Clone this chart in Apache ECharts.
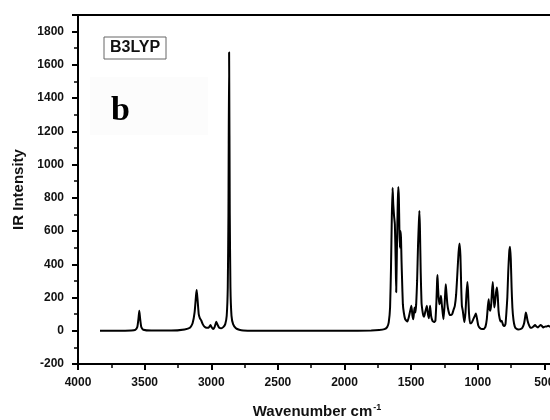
<!DOCTYPE html>
<html>
<head>
<meta charset="utf-8">
<script src="https://cdn.jsdelivr.net/npm/echarts@6/dist/echarts.min.js"></script>
<style>
  html, body { margin: 0; padding: 0; background: #fff; }
  #main { width: 550px; height: 420px; }
</style>
</head>
<body>
<div id="main"></div>
<script>
// spectrum: wavenumber (cm-1) and IR intensity
var wavenumber = [
  3835, 3700, 3600, 3570, 3555, 3546, 3540, 3534, 3525, 3510, 3450, 3300,
  3200, 3160, 3140, 3125, 3114, 3109, 3102, 3094, 3085, 3075, 3064, 3050,
  3035, 3020, 3006, 2996, 2986, 2975, 2962, 2952, 2940, 2925, 2910, 2895,
  2884, 2876, 2871, 2866, 2861, 2856, 2848, 2836, 2815, 2790, 2760, 2600,
  2300, 2000, 1800, 1740, 1700, 1680, 1668, 1658, 1651, 1645, 1639, 1634,
  1628, 1622, 1616, 1612, 1606, 1600, 1596, 1592, 1588, 1584, 1580, 1576,
  1572, 1568, 1562, 1555, 1545, 1535, 1528, 1518, 1507, 1498, 1490, 1483,
  1475, 1468, 1462, 1455, 1448, 1442, 1438, 1434, 1428, 1422, 1415, 1408,
  1402, 1395, 1382, 1374, 1366, 1358, 1350, 1340, 1328, 1318, 1310, 1305,
  1302, 1298, 1290, 1283, 1276, 1270, 1262, 1257, 1250, 1244, 1240, 1236,
  1228, 1220, 1210, 1200, 1192, 1182, 1172, 1162, 1152, 1144, 1137, 1130,
  1124, 1119, 1112, 1106, 1100, 1092, 1085, 1078, 1073, 1066, 1058, 1048,
  1036, 1022, 1014, 1006, 996, 982, 968, 955, 942, 932, 924, 918,
  912, 906, 899, 893, 887, 882, 876, 870, 863, 856, 850, 844,
  836, 828, 820, 810, 800, 792, 785, 778, 771, 764, 758, 752,
  746, 740, 732, 722, 710, 695, 680, 665, 652, 644, 639, 634,
  626, 616, 606, 595, 582, 570, 560, 548, 538, 528, 520, 508,
  496, 482, 470, 458, 440, 420, 400
];
var intensity = [
  0, 0, 2, 6, 22, 75, 120, 75, 22, 6, 1, 1,
  8, 18, 45, 110, 215, 245, 180, 100, 75, 62, 40, 24,
  18, 18, 34, 20, 10, 22, 54, 35, 18, 15, 22, 40,
  90, 260, 700, 1676, 700, 260, 90, 40, 15, 6, 2, 0,
  0, 0, 1, 4, 10, 22, 50, 140, 380, 680, 860, 760,
  690, 640, 420, 232, 520, 780, 865, 800, 610, 500, 600, 560,
  420, 310, 160, 110, 70, 60, 55, 80, 120, 150, 90, 70,
  140, 110, 160, 300, 520, 650, 721, 620, 350, 170, 120, 90,
  85, 110, 150, 100, 75, 150, 90, 60, 52, 60, 180, 300,
  335, 260, 160, 170, 210, 160, 100, 70, 140, 230, 280, 240,
  160, 120, 95, 95, 100, 125, 150, 220, 360, 470, 525, 450,
  260, 150, 120, 80, 52, 110, 220, 294, 240, 110, 45, 45,
  65, 90, 104, 75, 32, 15, 10, 10, 25, 70, 150, 190,
  130, 120, 160, 240, 294, 220, 140, 170, 230, 260, 210, 120,
  75, 55, 60, 35, 28, 40, 110, 200, 360, 470, 505, 430,
  260, 140, 65, 25, 12, 8, 10, 18, 45, 85, 110, 95,
  60, 35, 20, 18, 25, 35, 25, 20, 28, 35, 30, 20,
  25, 26, 30, 25, 20, 15, 10
];

var spectrum = wavenumber.map(function (w, i) { return [w, intensity[i]]; });

var chart = echarts.init(document.getElementById('main'));
var font = 'Liberation Sans, Arial, sans-serif';

var option = {
  backgroundColor: '#fff',
  animation: false,
  grid: {
    left: 78,
    top: 15,
    width: 533,   // 0 cm-1 falls outside the picture, as in the original
    height: 349,
    outerBoundsMode: 'none',
    containLabel: false
  },
  xAxis: [{
    type: 'value',
    position: 'bottom',
    inverse: true,
    min: 0,
    max: 4000,
    interval: 500,
    axisLine: { onZero: false, lineStyle: { color: '#000', width: 2 } },
    axisTick: { length: 6, lineStyle: { color: '#000', width: 2 } },
    minorTick: { show: true, splitNumber: 2, length: 4, lineStyle: { color: '#000', width: 1.5 } },
    axisLabel: {
      color: '#111', fontWeight: 'bold', fontSize: 12, fontFamily: font, margin: 13,
      formatter: function (v) { return String(v); }
    },
    splitLine: { show: false }
  }, {
    type: 'value',
    position: 'top',
    inverse: true,
    min: 0,
    max: 4000,
    axisLine: { onZero: false, lineStyle: { color: '#000', width: 2 } },
    axisTick: { show: false },
    axisLabel: { show: false },
    splitLine: { show: false }
  }],
  yAxis: {
    type: 'value',
    position: 'left',
    min: -200,
    max: 1900,
    interval: 200,
    name: 'IR Intensity',
    nameLocation: 'middle',
    nameGap: 50,
    nameTextStyle: { color: '#111', fontWeight: 'bold', fontSize: 15, fontFamily: font },
    axisLine: { show: true, onZero: false, lineStyle: { color: '#000', width: 2 } },
    axisTick: { show: true, length: 6, lineStyle: { color: '#000', width: 2 } },
    minorTick: { show: true, splitNumber: 2, length: 4, lineStyle: { color: '#000', width: 1.5 } },
    axisLabel: {
      color: '#111', fontWeight: 'bold', fontSize: 12, fontFamily: font, margin: 14,
      formatter: function (v) { return v > 1800 ? '' : String(v); }
    },
    splitLine: { show: false }
  },
  graphic: [
    {
      type: 'rect', z: 0,
      shape: { x: 90, y: 77, width: 118, height: 58 },
      style: { fill: '#fcfcfc' }
    },
    {
      type: 'rect', z: 10,
      shape: { x: 104, y: 37, width: 62, height: 22 },
      style: { fill: '#fff', stroke: '#666', lineWidth: 1 }
    },
    {
      type: 'text', z: 11, x: 135, y: 48,
      style: {
        text: 'B3LYP', fill: '#111', font: 'bold 16px Liberation Sans, Arial, sans-serif',
        textAlign: 'center', textVerticalAlign: 'middle'
      }
    },
    {
      type: 'text', z: 11, x: 111, y: 111,
      style: {
        text: 'b', fill: '#000', font: 'bold 34px Liberation Serif, Times New Roman, serif',
        textAlign: 'left', textVerticalAlign: 'middle'
      }
    },
    {
      type: 'text', z: 11, x: 317, y: 412,
      style: {
        text: 'Wavenumber cm{sup|-1}',
        fill: '#111',
        font: 'bold 15px Liberation Sans, Arial, sans-serif',
        textAlign: 'center', textVerticalAlign: 'middle',
        rich: {
          sup: { fontSize: 9, fontWeight: 'bold', fontFamily: font, fill: '#111', verticalAlign: 'top', padding: [0, 0, 8, 1] }
        }
      }
    }
  ],
  series: [{
    type: 'line',
    xAxisIndex: 0,
    data: spectrum,
    showSymbol: false,
    smooth: 0.15,
    lineStyle: { color: '#000', width: 2 }
  }]
};
chart.setOption(option);
</script>
</body>
</html>
